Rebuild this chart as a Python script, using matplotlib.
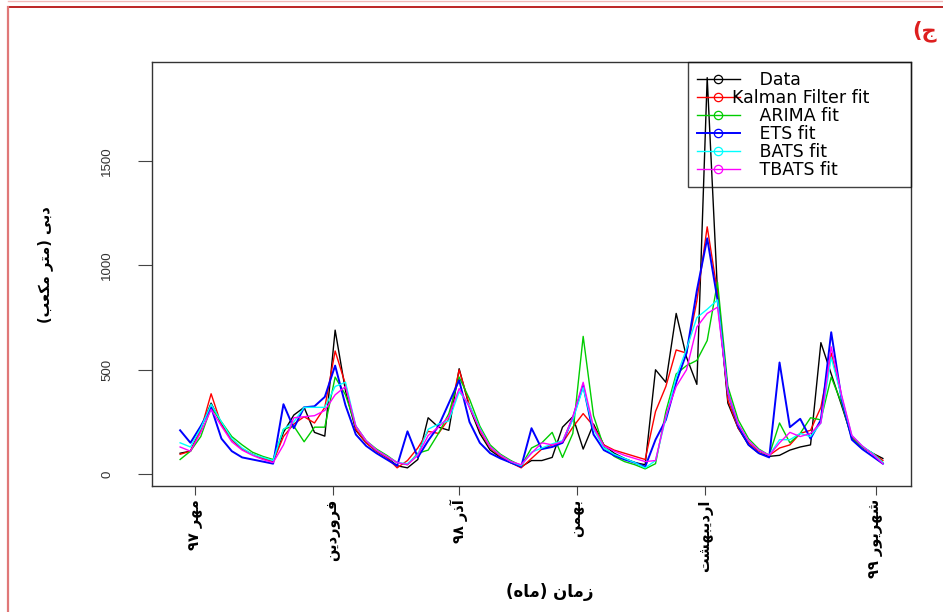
import re
import numpy as np
import matplotlib
matplotlib.use("Agg")
import matplotlib.pyplot as plt
from matplotlib.lines import Line2D

# ------------------------------------------------------------------
# data (index = sample number)
data_obs = [100, 110, 220, 340, 240, 165, 120, 95, 75, 60,
            200, 283, 320, 200, 182, 690, 400, 210, 150, 110,
            80, 40, 30, 70, 270, 225, 210, 505, 320, 195,
            115, 80, 55, 35, 65, 65, 80, 225, 275, 120,
            240, 140, 100, 75, 55, 45, 500, 440, 770, 560,
            430, 1900, 870, 340, 220, 140, 100, 85, 90, 115,
            130, 140, 630, 480, 330, 175, 130, 100, 75]
kalman = [95, 110, 210, 385, 235, 165, 120, 95, 75, 60,
          180, 240, 275, 245, 320, 590, 430, 215, 150, 110,
          80, 30, 65, 125, 205, 195, 265, 500, 330, 210,
          125, 85, 55, 30, 75, 120, 140, 150, 225, 290,
          230, 140, 115, 100, 85, 70, 300, 420, 595, 580,
          830, 1185, 870, 355, 220, 150, 110, 90, 125, 140,
          195, 210, 320, 580, 370, 175, 130, 100, 65]
arima = [70, 110, 180, 320, 250, 180, 140, 105, 85, 70,
         215, 230, 155, 225, 225, 465, 380, 230, 160, 120,
         90, 55, 45, 100, 115, 195, 290, 465, 360, 230,
         140, 95, 65, 40, 125, 150, 200, 80, 195, 660,
         280, 130, 85, 60, 45, 25, 50, 300, 480, 520,
         545, 640, 920, 420, 260, 170, 120, 90, 245, 150,
         195, 270, 260, 465, 340, 170, 130, 100, 55]
ets = [210, 150, 230, 320, 170, 110, 80, 70, 60, 50,
       335, 220, 320, 325, 370, 520, 330, 190, 135, 100,
       70, 40, 205, 80, 160, 230, 340, 450, 250, 150,
       100, 75, 55, 35, 220, 120, 130, 150, 270, 425,
       190, 115, 90, 70, 55, 35, 165, 260, 440, 580,
       880, 1130, 835, 390, 230, 140, 100, 80, 535, 225,
       265, 170, 260, 680, 360, 165, 120, 85, 50]
bats = [150, 130, 220, 335, 250, 170, 125, 95, 80, 65,
        215, 250, 320, 320, 320, 420, 440, 230, 160, 115,
        85, 55, 50, 95, 215, 240, 255, 395, 330, 220,
        130, 90, 60, 40, 105, 125, 145, 160, 260, 415,
        215, 125, 95, 75, 55, 30, 65, 270, 465, 600,
        750, 790, 835, 390, 240, 160, 115, 90, 165, 165,
        195, 180, 245, 560, 370, 185, 135, 100, 55]
tbats = [130, 110, 200, 310, 230, 155, 115, 90, 70, 55,
         140, 270, 275, 280, 305, 380, 420, 230, 160, 115,
         85, 55, 45, 90, 185, 225, 275, 410, 320, 215,
         130, 90, 60, 45, 100, 150, 140, 155, 275, 440,
         225, 135, 110, 90, 75, 60, 65, 280, 420, 500,
         705, 770, 800, 390, 240, 160, 115, 90, 150, 200,
         180, 195, 245, 610, 380, 185, 135, 95, 50]

series_names = ["Data", "Kalman Filter fit", "ARIMA fit", "ETS fit", "BATS fit", "TBATS fit"]
series_colors = ["#000000", "#ff0000", "#00cd00", "#0000ff", "#00ffff", "#ff00ff"]
series_lw = [1.0, 1.0, 1.0, 1.4, 1.0, 1.0]

month_pos = [1.45, 14.8, 27.0, 38.4, 50.8, 67.3]
month_labels = ["مهر ۹۷", "فروردین", "آذر ۹۸", "بهمن", "اردیبهشت", "شهریور ۹۹"]
y_ticks = [0, 500, 1000, 1500]

x_title = "زمان (ماه)"
y_title = "دبی (متر مکعب)"
panel_tag = "ج)"

# ------------------------------------------------------------------
# tiny persian shaper (no reshaper libs in the sandbox)
FORMS = {
    'ا': (0xFE8D, 0xFE8E), 'آ': (0xFE81, 0xFE82), 'د': (0xFEA9, 0xFEAA),
    'ذ': (0xFEAB, 0xFEAC), 'ر': (0xFEAD, 0xFEAE), 'ز': (0xFEAF, 0xFEB0),
    'و': (0xFEED, 0xFEEE),
    'ب': (0xFE8F, 0xFE90, 0xFE91, 0xFE92), 'ت': (0xFE95, 0xFE96, 0xFE97, 0xFE98),
    'ج': (0xFE9D, 0xFE9E, 0xFE9F, 0xFEA0), 'ش': (0xFEB5, 0xFEB6, 0xFEB7, 0xFEB8),
    'ع': (0xFEC9, 0xFECA, 0xFECB, 0xFECC), 'ف': (0xFED1, 0xFED2, 0xFED3, 0xFED4),
    'م': (0xFEE1, 0xFEE2, 0xFEE3, 0xFEE4), 'ن': (0xFEE5, 0xFEE6, 0xFEE7, 0xFEE8),
    'ه': (0xFEE9, 0xFEEA, 0xFEEB, 0xFEEC), 'ی': (0xFBFC, 0xFBFD, 0xFBFE, 0xFBFF),
    'ک': (0xFB8E, 0xFB8F, 0xFB90, 0xFB91),
}


def fa(s):
    out = []
    for k, ch in enumerate(s):
        if ch not in FORMS:
            out.append(ch)
            continue
        f = FORMS[ch]
        prev = s[k - 1] if k > 0 else ''
        nxt = s[k + 1] if k + 1 < len(s) else ''
        jp = prev in FORMS and len(FORMS[prev]) == 4
        jn = len(f) == 4 and nxt in FORMS
        if jp and jn:
            c = f[3]
        elif jp:
            c = f[1]
        elif jn:
            c = f[2]
        else:
            c = f[0]
        out.append(chr(c))
    vis = ''.join(out[::-1])
    vis = re.sub('[۰-۹0-9]+', lambda m: m.group(0)[::-1], vis)
    return vis.translate(str.maketrans('()', ')('))


# ------------------------------------------------------------------
W, H = 943, 612
fig = plt.figure(figsize=(W / 100, H / 100), dpi=100)
ax = fig.add_axes([152 / W, (H - 486) / H, 759 / W, 424 / H])

x = np.arange(len(data_obs))
all_series = [data_obs, kalman, arima, ets, bats, tbats]
for vals, col, lw in zip(all_series, series_colors, series_lw):
    ax.plot(x, vals, color=col, lw=lw)

n = len(data_obs) - 1
ax.set_xlim(-0.04 * n, n * 1.04)
ax.set_ylim(-57, 1975)

for sp in ax.spines.values():
    sp.set_color("#333333")
    sp.set_linewidth(1.0)

ax.set_yticks(y_ticks)
ax.set_yticklabels([str(v) for v in y_ticks], fontfamily="Liberation Sans",
                   fontsize=9.5, color="#333333", rotation=90, va="center")
ax.tick_params(axis="y", length=10, width=0.8, color="#444444", pad=18)

ax.set_xticks(month_pos)
ax.set_xticklabels([fa(t) for t in month_labels], fontfamily="DejaVu Sans",
                   fontweight="bold", fontsize=10.5, rotation=90, ha="center", va="top")
ax.tick_params(axis="x", length=6.5, width=0.8, color="#444444", pad=3)

# legend, R style: open circles on the lines, plain box
handles = [Line2D([], [], color=c, lw=lw, marker="o", mfc="none", ms=6, mew=0.9)
           for c, lw in zip(series_colors, series_lw)]
labels = [("" if nm.startswith("Kalman") else "     ") + nm for nm in series_names]
leg = ax.legend(handles, labels, loc="upper left", bbox_to_anchor=(0.706, 0.0, 0.294, 1.0),
                mode="expand", borderaxespad=0, numpoints=1,
                handlelength=2.5, handletextpad=-0.45, labelspacing=0.0,
                borderpad=0.5, fancybox=False, prop={"family": "DejaVu Sans", "size": 12.5})
leg.get_frame().set_edgecolor("#111111")
leg.get_frame().set_linewidth(1.0)
leg.get_frame().set_facecolor("none")

fig.text(550 / W, 1 - 592 / H, fa(x_title), ha="center", va="center",
         fontfamily="DejaVu Sans", fontweight="bold", fontsize=12)
fig.text(45 / W, 1 - 265 / H, fa(y_title), ha="center", va="center", rotation=90,
         fontfamily="DejaVu Sans", fontweight="bold", fontsize=10.5)
fig.text(912 / W, 1 - 31 / H, fa(panel_tag), ha="left", va="center",
         fontfamily="DejaVu Sans", fontweight="bold", fontsize=15, color="#dd1f1f")

# page frame lines around the panel
fig.add_artist(Line2D([8 / W, 1], [1 - 0.5 / H] * 2, transform=fig.transFigure,
                      color="#f2b8b8", lw=1.0))
fig.add_artist(Line2D([8 / W, 1], [1 - 7 / H] * 2, transform=fig.transFigure,
                      color="#b00000", lw=1.2))
fig.add_artist(Line2D([8 / W] * 2, [0, 1 - 7 / H], transform=fig.transFigure,
                      color="#e07878", lw=1.6))

fig.savefig("out.png", dpi=100)
